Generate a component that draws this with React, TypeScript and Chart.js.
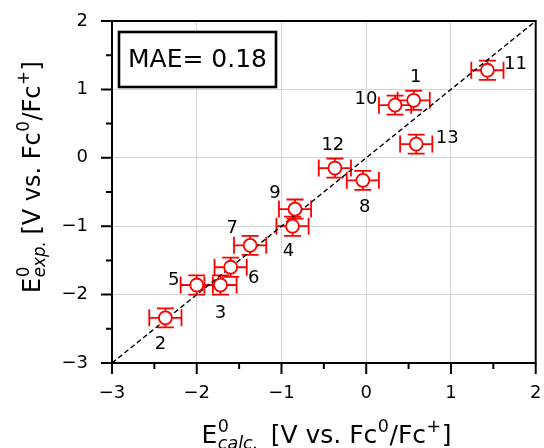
import React, { useEffect, useRef } from "react";
import { Chart, registerables } from "chart.js";

Chart.register(...registerables);

const pointLabels = ["1", "2", "3", "4", "5", "6", "7", "8", "9", "10", "11", "12", "13"];
const calcValues = [0.56, -2.37, -1.72, -0.87, -2.0, -1.6, -1.37, -0.04, -0.84, 0.34, 1.43, -0.37, 0.59];
const expValues = [0.84, -2.34, -1.86, -1.0, -1.86, -1.6, -1.28, -0.33, -0.75, 0.77, 1.28, -0.15, 0.2];
const xError = 0.19;
const yError = 0.14;
const identityLine = [-3, 2];
const axisTicks = [-3, -2, -1, 0, 1, 2];
const maeText = "MAE= 0.18";

// label placement (pixel offsets of label centre from the point)
const labelOffsets: [number, number][] = [
  [2, -23], [-5, 26], [0, 28], [-4, 25], [-23, -5], [23, 11], [-18, -17],
  [2, 27], [-20, -16], [-29, -6], [28, -6], [-2, -23], [31, -6],
];

const FONT = "'DejaVu Sans', sans-serif";
const RED = "#ff0000";

type Part = { t?: string; sup?: string; sub?: string; gap?: number };

function drawRich(ctx: CanvasRenderingContext2D, parts: Part[], size: number) {
  const small = size * 0.7;
  const widthOf = (p: Part) => {
    if (p.gap !== undefined) return p.gap;
    if (p.t !== undefined) {
      ctx.font = `${size}px ${FONT}`;
      return ctx.measureText(p.t).width;
    }
    let w = 0;
    if (p.sup) { ctx.font = `${small}px ${FONT}`; w = Math.max(w, ctx.measureText(p.sup).width); }
    if (p.sub) { ctx.font = `italic ${small}px ${FONT}`; w = Math.max(w, ctx.measureText(p.sub).width); }
    return w + 1;
  };
  const total = parts.reduce((s, p) => s + widthOf(p), 0);
  let x = -total / 2;
  ctx.textBaseline = "alphabetic";
  ctx.textAlign = "left";
  for (const p of parts) {
    const w = widthOf(p);
    if (p.gap !== undefined) {
      // spacing only
    } else if (p.t !== undefined) {
      ctx.font = `${size}px ${FONT}`;
      ctx.fillText(p.t, x, 0);
    } else {
      if (p.sup) { ctx.font = `${small}px ${FONT}`; ctx.fillText(p.sup, x + 0.5, -size * 0.44); }
      if (p.sub) { ctx.font = `italic ${small}px ${FONT}`; ctx.fillText(p.sub, x + 0.5, size * 0.22); }
    }
    x += w;
  }
}

const xTitle: Part[] = [
  { t: "E" }, { sup: "0", sub: "calc." }, { gap: 12 }, { t: "[V vs. Fc" }, { sup: "0" }, { t: "/Fc" }, { sup: "+" }, { t: "]" },
];
const yTitle: Part[] = [
  { t: "E" }, { sup: "0", sub: "exp." }, { gap: 6 }, { t: "[V vs. Fc" }, { sup: "0" }, { t: "/Fc" }, { sup: "+" }, { t: "]" },
];

const customPlugin = {
  id: "custom",
  beforeDatasetsDraw(chart: any) {
    const { ctx, scales } = chart;
    const xs = scales.x, ys = scales.y;
    ctx.save();
    ctx.strokeStyle = RED;
    ctx.lineWidth = 1.8;
    const cap = 8.5;
    for (let i = 0; i < calcValues.length; i++) {
      const cx = xs.getPixelForValue(calcValues[i]);
      const cy = ys.getPixelForValue(expValues[i]);
      const x0 = xs.getPixelForValue(calcValues[i] - xError);
      const x1 = xs.getPixelForValue(calcValues[i] + xError);
      const y0 = ys.getPixelForValue(expValues[i] - yError);
      const y1 = ys.getPixelForValue(expValues[i] + yError);
      ctx.beginPath();
      ctx.moveTo(x0, cy); ctx.lineTo(x1, cy);
      ctx.moveTo(cx, y0); ctx.lineTo(cx, y1);
      ctx.moveTo(x0, cy - cap); ctx.lineTo(x0, cy + cap);
      ctx.moveTo(x1, cy - cap); ctx.lineTo(x1, cy + cap);
      ctx.moveTo(cx - cap, y0); ctx.lineTo(cx + cap, y0);
      ctx.moveTo(cx - cap, y1); ctx.lineTo(cx + cap, y1);
      ctx.stroke();
    }
    ctx.restore();
  },
  afterDraw(chart: any) {
    const { ctx, chartArea: a, scales } = chart;
    const xs = scales.x, ys = scales.y;
    ctx.save();
    // frame
    ctx.strokeStyle = "#000";
    ctx.lineWidth = 2;
    ctx.strokeRect(a.left, a.top, a.right - a.left, a.bottom - a.top);
    // ticks
    ctx.beginPath();
    for (let v = -3; v <= 2.001; v += 0.5) {
      const major = Math.abs(v - Math.round(v)) < 1e-6;
      const len = major ? 11 : 6;
      const px = xs.getPixelForValue(v);
      ctx.moveTo(px, a.bottom); ctx.lineTo(px, a.bottom + len);
      const py = ys.getPixelForValue(v);
      ctx.moveTo(a.left, py); ctx.lineTo(a.left - len, py);
    }
    ctx.lineWidth = 2;
    ctx.stroke();
    // point labels
    ctx.fillStyle = "#000";
    ctx.font = `18px ${FONT}`;
    ctx.textAlign = "center";
    ctx.textBaseline = "middle";
    for (let i = 0; i < pointLabels.length; i++) {
      const cx = xs.getPixelForValue(calcValues[i]);
      const cy = ys.getPixelForValue(expValues[i]);
      ctx.fillText(pointLabels[i], cx + labelOffsets[i][0], cy + labelOffsets[i][1]);
    }
    // MAE box
    ctx.fillStyle = "#fff";
    ctx.fillRect(119, 32, 157, 55);
    ctx.lineWidth = 2.6;
    ctx.strokeStyle = "#000";
    ctx.strokeRect(119, 32, 157, 55);
    ctx.fillStyle = "#000";
    ctx.font = `25px ${FONT}`;
    ctx.fillText(maeText, 197.5, 60);
    // axis titles
    ctx.save();
    ctx.translate(326.5, 443);
    drawRich(ctx, xTitle, 25);
    ctx.restore();
    ctx.save();
    ctx.translate(40, 177);
    ctx.rotate(-Math.PI / 2);
    drawRich(ctx, yTitle, 24);
    ctx.restore();
    ctx.restore();
  },
};

export default function App() {
  const ref = useRef<HTMLCanvasElement>(null);
  useEffect(() => {
    document.body.style.margin = "0";
    const canvas = ref.current!;
    const tickFmt = (v: any) => {
      const n = Number(v);
      return n < 0 ? "\u2212" + Math.abs(n) : String(n);
    };
    const zeroPad = (s: any) => {
      s.paddingTop = 0; s.paddingBottom = 0; s.paddingLeft = 0; s.paddingRight = 0;
    };
    const chart = new Chart(canvas, {
      type: "scatter",
      data: {
        datasets: [
          {
            type: "line",
            data: identityLine.map((v) => ({ x: v, y: v })),
            borderColor: "#000",
            borderWidth: 1.4,
            borderDash: [5, 3],
            pointRadius: 0,
            fill: false,
            order: 2,
          } as any,
          {
            data: calcValues.map((x, i) => ({ x, y: expValues[i] })),
            pointRadius: 6.5,
            pointBorderWidth: 1.8,
            pointBackgroundColor: "#fff",
            pointBorderColor: RED,
            order: 1,
          },
        ],
      },
      options: {
        responsive: false,
        maintainAspectRatio: false,
        animation: false,
        devicePixelRatio: 1,
        layout: { padding: { left: 0, top: 21, right: 6, bottom: 0 } },
        plugins: { legend: { display: false }, tooltip: { enabled: false } },
        scales: {
          x: {
            type: "linear",
            min: -3,
            max: 2,
            afterFit: (s: any) => { s.height = 85; zeroPad(s); },
            afterBuildTicks: (s: any) => { s.ticks = axisTicks.map((v) => ({ value: v })); },
            grid: { color: "#d4d4d4", lineWidth: 1, drawTicks: false },
            border: { display: false },
            ticks: { padding: 20, color: "#000", font: { family: FONT, size: 18 }, callback: tickFmt, maxRotation: 0 },
          },
          y: {
            type: "linear",
            min: -3,
            max: 2,
            afterFit: (s: any) => { s.width = 112; zeroPad(s); },
            afterBuildTicks: (s: any) => { s.ticks = axisTicks.map((v) => ({ value: v })); },
            grid: { color: "#d4d4d4", lineWidth: 1, drawTicks: false },
            border: { display: false },
            ticks: { padding: 24, color: "#000", font: { family: FONT, size: 18 }, callback: tickFmt },
          },
        },
      },
      plugins: [customPlugin],
    });
    return () => chart.destroy();
  }, []);
  return (
    <div style={{ width: 544, height: 448 }}>
      <canvas ref={ref} width={544} height={448} style={{ display: "block" }} />
    </div>
  );
}
